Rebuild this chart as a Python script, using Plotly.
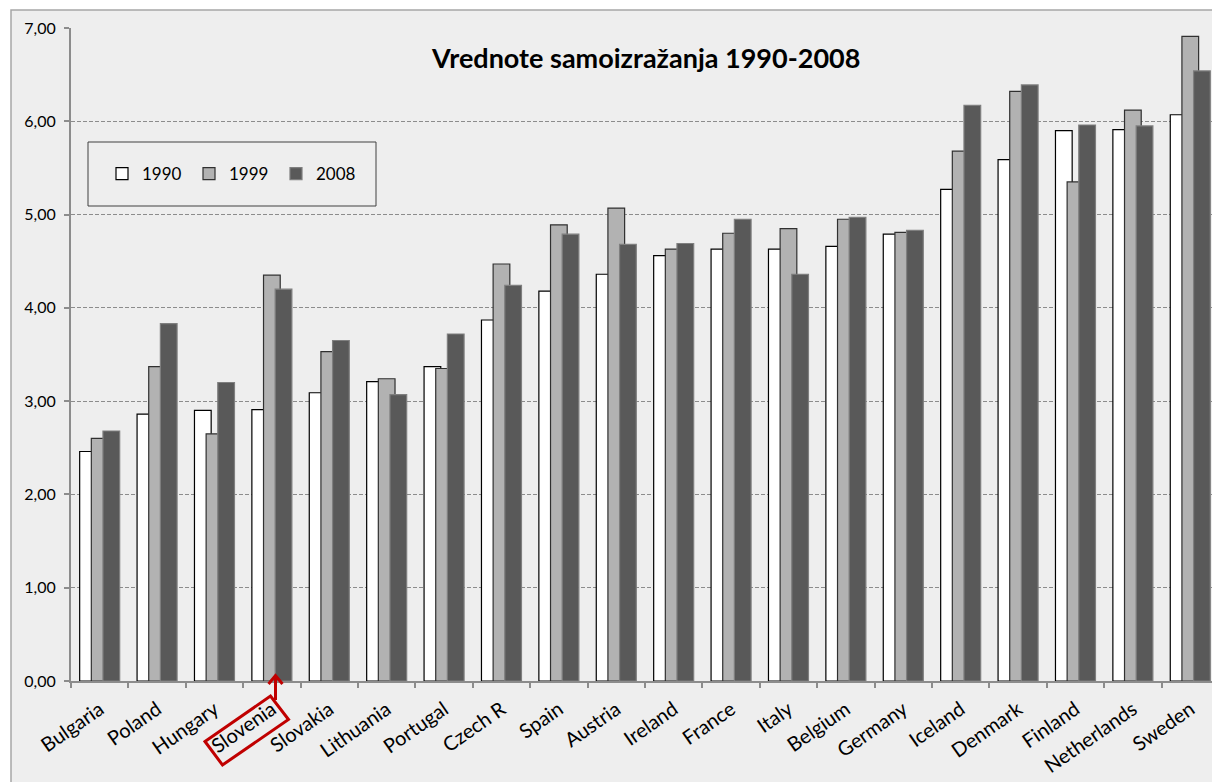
import plotly.graph_objects as go

countries = ["Bulgaria", "Poland", "Hungary", "Slovenia", "Slovakia", "Lithuania",
             "Portugal", "Czech R", "Spain", "Austria", "Ireland", "France", "Italy",
             "Belgium", "Germany", "Iceland", "Denmark", "Finland", "Netherlands", "Sweden"]
v1990 = [2.46, 2.86, 2.90, 2.91, 3.09, 3.21, 3.37, 3.87, 4.18, 4.36, 4.56, 4.63, 4.63,
         4.66, 4.79, 5.27, 5.59, 5.90, 5.91, 6.07]
v1999 = [2.60, 3.37, 2.65, 4.35, 3.53, 3.24, 3.35, 4.47, 4.89, 5.07, 4.63, 4.80, 4.85,
         4.95, 4.81, 5.68, 6.32, 5.35, 6.12, 6.91]
v2008 = [2.68, 3.83, 3.20, 4.20, 3.65, 3.07, 3.72, 4.24, 4.79, 4.68, 4.69, 4.95, 4.36,
         4.97, 4.83, 6.17, 6.39, 5.96, 5.95, 6.54]
series_names = ["1990", "1999", "2008"]
title_text = "Vrednote samoizražanja 1990-2008"

# the page body has an 8px margin; the figure is sized to fit the 1220x782 window
OFF = 8
W, H = 1220 - OFF, 782 - OFF
ML, MR, MT, MB = 71 - OFF, 1, 28 - OFF, 101
PW, PH = W - ML - MR, H - MT - MB


def px(x):  # page pixel -> paper fraction
    return (x - OFF - ML) / PW


def py(y):
    return (H - MB - (y - OFF)) / PH


FONT = "Lato, 'Open Sans', sans-serif"

fig = go.Figure()
styles = [
    dict(color="#FFFFFF", line="#000000", offset=-0.349),
    dict(color="#B2B2B2", line="#303030", offset=-0.146),
    dict(color="#595959", line="#7F7F7F", offset=0.057),
]
for name, vals, st in zip(series_names, [v1990, v1999, v2008], styles):
    fig.add_trace(go.Bar(
        x=countries, y=vals, name=name,
        width=0.291, offset=st["offset"],
        marker=dict(color=st["color"], line=dict(color=st["line"], width=1.2)),
    ))

shapes = []
shapes.append(dict(type="rect", xref="paper", yref="paper",
                   x0=px(11), x1=px(1240), y0=py(10), y1=py(800),
                   fillcolor="#EEEEEE", line=dict(color="#A6A6A6", width=1.5),
                   layer="below"))
shapes.append(dict(type="rect", xref="paper", yref="paper",
                   x0=px(88), x1=px(376), y0=py(142), y1=py(206),
                   line=dict(color="#404040", width=1), fillcolor="rgba(0,0,0,0)"))
corners = [(205, 741.5), (270.5, 696), (288.5, 719.5), (222.5, 765)]
path = "M " + " L ".join(f"{px(x):.5f},{py(y):.5f}" for x, y in corners) + " Z"
shapes.append(dict(type="path", xref="paper", yref="paper", path=path,
                   line=dict(color="#C00000", width=3)))
shapes.append(dict(type="line", xref="paper", yref="paper",
                   x0=px(275.5), x1=px(275.5), y0=py(700), y1=py(676),
                   line=dict(color="#C00000", width=3)))
chev = f"M {px(268.5):.5f},{py(684):.5f} L {px(275.5):.5f},{py(675.5):.5f} L {px(282.5):.5f},{py(684):.5f}"
shapes.append(dict(type="path", xref="paper", yref="paper", path=chev,
                   line=dict(color="#C00000", width=3)))

fig.update_layout(
    width=W, height=H,
    margin=dict(l=ML, r=MR, t=MT, b=MB, pad=0, autoexpand=False),
    paper_bgcolor="#FFFFFF",
    plot_bgcolor="#EEEEEE",
    barmode="overlay",
    separators=",.",
    font=dict(family=FONT, color="#000000"),
    showlegend=True,
    legend=dict(orientation="h", x=px(102), y=py(174), xanchor="left", yanchor="middle",
                bgcolor="rgba(0,0,0,0)", borderwidth=0,
                font=dict(size=17, family=FONT, color="#000000"),
                entrywidth=42, entrywidthmode="pixels", itemwidth=30,
                traceorder="normal"),
    shapes=shapes,
    annotations=[dict(text=f"<b>{title_text}</b>", xref="paper", yref="paper",
                      x=0.5, y=py(57), xanchor="center", yanchor="middle",
                      showarrow=False, font=dict(size=27, family=FONT, color="#000000"))],
    xaxis=dict(type="category", tickson="boundaries", ticks="outside", ticklen=5,
               tickcolor="#8C8C8C", tickwidth=1.5, showline=True, linecolor="#8C8C8C",
               linewidth=2, showgrid=False, tickangle=-35, automargin=False,
               ticklabelstandoff=7,
               tickfont=dict(size=20, family=FONT, color="#000000"),
               range=[-0.5, len(countries) - 0.5]),
    yaxis=dict(range=[0, 7], dtick=1, tick0=0, tickformat=".2f", ticks="outside",
               ticklen=5, tickcolor="#8C8C8C", tickwidth=1.5, showline=True,
               linecolor="#8C8C8C", linewidth=2, showgrid=True, gridcolor="#8C8C8C",
               gridwidth=1, griddash="4px,2px", zeroline=False, automargin=False,
               ticklabelstandoff=5,
               tickfont=dict(size=16, family=FONT, color="#000000")),
)

fig.write_html("out.html")
